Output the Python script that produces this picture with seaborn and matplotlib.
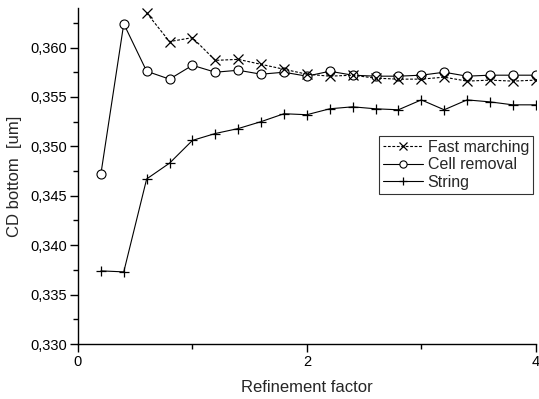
import numpy as np
import pandas as pd
import matplotlib
matplotlib.use("Agg")
import matplotlib.pyplot as plt
import seaborn as sns
from matplotlib.ticker import MultipleLocator, FuncFormatter

# ---- data ----
x_cell = [0.2, 0.4, 0.6, 0.8, 1.0, 1.2, 1.4, 1.6, 1.8, 2.0, 2.2, 2.4, 2.6, 2.8, 3.0, 3.2, 3.4, 3.6, 3.8, 4.0]
cell_removal = [0.3472, 0.3624, 0.3576, 0.3568, 0.3582, 0.3575, 0.3577, 0.3573, 0.3575, 0.3571,
                0.3576, 0.3572, 0.3571, 0.3571, 0.3572, 0.3575, 0.3571, 0.3572, 0.3572, 0.3572]

x_fast = [0.6, 0.8, 1.0, 1.2, 1.4, 1.6, 1.8, 2.0, 2.2, 2.4, 2.6, 2.8, 3.0, 3.2, 3.4, 3.6, 3.8, 4.0]
fast_marching = [0.3635, 0.3606, 0.3610, 0.3587, 0.3588, 0.3583, 0.3578, 0.3573, 0.3571, 0.3572,
                 0.3569, 0.3568, 0.3568, 0.3570, 0.3566, 0.3567, 0.3566, 0.3567]

x_string = [0.2, 0.4, 0.6, 0.8, 1.0, 1.2, 1.4, 1.6, 1.8, 2.0, 2.2, 2.4, 2.6, 2.8, 3.0, 3.2, 3.4, 3.6, 3.8, 4.0]
string = [0.3374, 0.3373, 0.3467, 0.3483, 0.3506, 0.3513, 0.3518, 0.3525, 0.3533, 0.3532,
          0.3538, 0.3540, 0.3538, 0.3537, 0.3547, 0.3537, 0.3547, 0.3545, 0.3542, 0.3542]

x_ticks = [0, 2, 4]
x_label = "Refinement factor"
y_label = "CD bottom  [um]"

sns.set_style("ticks")
plt.rcParams['font.family'] = ['Liberation Sans', 'DejaVu Sans']

fig = plt.figure(figsize=(5.39, 3.99), dpi=100)
ax = fig.add_axes([0.1447, 0.1378, 0.8492, 0.8422])

sns.lineplot(x=x_fast, y=fast_marching, ax=ax, color='black', linestyle=(0, (2.5, 1.5)),
             linewidth=0.8, marker='x', markersize=7, markeredgewidth=0.9,
             markeredgecolor='black', label='Fast marching', zorder=3)
sns.lineplot(x=x_cell, y=cell_removal, ax=ax, color='black', linestyle='-',
             linewidth=0.8, marker='o', markersize=6.5, markerfacecolor='white',
             markeredgecolor='black', markeredgewidth=0.8, label='Cell removal', zorder=2)
sns.lineplot(x=x_string, y=string, ax=ax, color='black', linestyle='-',
             linewidth=0.8, marker='+', markersize=7, markeredgewidth=0.9,
             markeredgecolor='black', label='String', zorder=2)

ax.set_xlim(0, 4)
ax.set_ylim(0.330, 0.364)
ax.set_xticks(x_ticks)
ax.xaxis.set_minor_locator(MultipleLocator(1))
ax.yaxis.set_major_locator(MultipleLocator(0.005))
ax.yaxis.set_minor_locator(MultipleLocator(0.0025))
ax.yaxis.set_major_formatter(FuncFormatter(lambda v, p: f"{v:.3f}".replace('.', ',')))
ax.xaxis.set_major_formatter(FuncFormatter(lambda v, p: f"{v:g}"))

for s in ['top', 'right']:
    ax.spines[s].set_visible(False)
for s in ['left', 'bottom']:
    ax.spines[s].set_linewidth(1.0)
    ax.spines[s].set_color('black')

ax.tick_params(axis='both', which='major', direction='out', length=6, width=1.0,
               labelsize=10.5, colors='black', pad=2)
ax.tick_params(axis='both', which='minor', direction='out', length=3.5, width=1.0, colors='black')

ax.set_xlabel(x_label, fontsize=12, labelpad=8)
ax.set_ylabel(y_label, fontsize=12, labelpad=6)

leg = ax.legend(loc='upper right', bbox_to_anchor=(0.994, 0.619), borderaxespad=0,
                fontsize=11.5, frameon=True, fancybox=False, handlelength=2.5,
                handletextpad=0.3, labelspacing=0.15, borderpad=0.25, markerscale=0.8)
leg.get_frame().set_edgecolor('black')
leg.get_frame().set_linewidth(0.8)

fig.savefig("out.png", dpi=100, facecolor='white')
